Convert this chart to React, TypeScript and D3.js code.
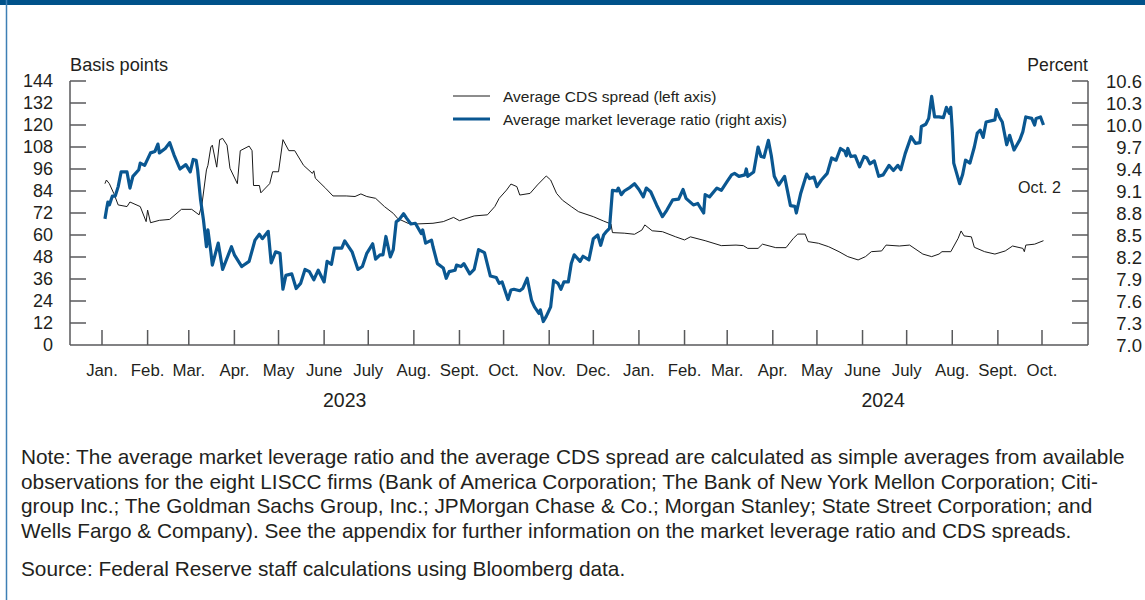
import React from "react";
import * as d3 from "d3";

const monthLabels = ["Jan.","Feb.","Mar.","Apr.","May","June","July","Aug.","Sept.","Oct.","Nov.","Dec.","Jan.","Feb.","Mar.","Apr.","May","June","July","Aug.","Sept.","Oct."];
const monthStarts = ["2023-01-01","2023-02-01","2023-03-01","2023-04-01","2023-05-01","2023-06-01","2023-07-01","2023-08-01","2023-09-01","2023-10-01","2023-11-01","2023-12-01","2024-01-01","2024-02-01","2024-03-01","2024-04-01","2024-05-01","2024-06-01","2024-07-01","2024-08-01","2024-09-01","2024-10-01"];
const yearLabels = ["2023","2024"];
const yearLabelDates = ["2023-06-15","2024-06-15"];
const leftTicks = [0,12,24,36,48,60,72,84,96,108,120,132,144];
const rightTicks = ["7.0","7.3","7.6","7.9","8.2","8.5","8.8","9.1","9.4","9.7","10.0","10.3","10.6"];

const cdsDates = ["2023-01-03","2023-01-04","2023-01-06","2023-01-09","2023-01-12","2023-01-18","2023-01-20","2023-01-27","2023-01-31","2023-02-01","2023-02-03","2023-02-09","2023-02-16","2023-02-24","2023-03-03","2023-03-08","2023-03-10","2023-03-13","2023-03-14","2023-03-16","2023-03-17","2023-03-20","2023-03-22","2023-03-24","2023-03-27","2023-03-29","2023-04-03","2023-04-05","2023-04-11","2023-04-13","2023-04-14","2023-04-18","2023-04-19","2023-04-25","2023-04-27","2023-05-01","2023-05-04","2023-05-08","2023-05-12","2023-05-18","2023-05-24","2023-05-25","2023-05-26","2023-06-02","2023-06-07","2023-06-16","2023-06-22","2023-06-26","2023-06-30","2023-07-06","2023-07-12","2023-07-18","2023-07-21","2023-07-28","2023-08-02","2023-08-14","2023-08-21","2023-08-28","2023-09-01","2023-09-11","2023-09-20","2023-09-25","2023-09-28","2023-10-03","2023-10-06","2023-10-10","2023-10-12","2023-10-19","2023-10-24","2023-10-30","2023-11-02","2023-11-06","2023-11-10","2023-11-16","2023-11-21","2023-12-01","2023-12-08","2023-12-13","2023-12-14","2023-12-22","2023-12-29","2024-01-03","2024-01-05","2024-01-10","2024-01-17","2024-01-26","2024-02-01","2024-02-05","2024-02-15","2024-02-26","2024-03-07","2024-03-12","2024-03-15","2024-03-22","2024-03-25","2024-04-03","2024-04-10","2024-04-15","2024-04-18","2024-04-23","2024-04-25","2024-05-02","2024-05-09","2024-05-16","2024-05-22","2024-05-29","2024-06-03","2024-06-07","2024-06-14","2024-06-17","2024-06-26","2024-07-03","2024-07-12","2024-07-18","2024-07-23","2024-07-25","2024-07-31","2024-08-05","2024-08-07","2024-08-09","2024-08-14","2024-08-16","2024-08-23","2024-08-30","2024-09-06","2024-09-11","2024-09-18","2024-09-19","2024-09-20","2024-09-26","2024-10-02"];
const cdsValues = [88,90,88,82.7,76.4,75.5,78,75.5,67.3,73.6,66.7,68,68.5,74,74,71,77,95.5,98,108,109,97,112,112.7,109,96.4,88,106,108.5,106,87,87,83,88,94.5,94.5,112,106,106,98,93.6,95,91,85.5,81.3,81.3,81,82.4,81,80,75.5,71.8,69,66.4,66,66.4,67.3,69.6,67.8,70.4,71,75.5,80,84.5,87.8,86.4,81.8,82.7,87.3,92.2,90,82.7,79,75.5,72.7,70,67.6,66,61.3,61,60.4,62.7,65.5,62.3,61.8,59,57.3,59,56.9,54.2,54.5,54.2,52.7,52.7,55,53.1,53.1,58.2,60.5,60.5,56.4,55.5,53.6,50.9,48.2,46.4,48.2,50.9,51.3,54.5,54,54.5,49.6,48.2,49.6,50.9,50.9,58.2,62.2,59.5,59,53.3,50.9,49.6,51.3,54,52.7,50.9,54.5,55,56.9];

const levDates = ["2023-01-03","2023-01-04","2023-01-05","2023-01-06","2023-01-08","2023-01-10","2023-01-12","2023-01-14","2023-01-18","2023-01-20","2023-01-22","2023-01-26","2023-01-27","2023-01-30","2023-02-03","2023-02-06","2023-02-08","2023-02-09","2023-02-13","2023-02-16","2023-02-19","2023-02-23","2023-02-27","2023-03-02","2023-03-04","2023-03-06","2023-03-07","2023-03-09","2023-03-11","2023-03-13","2023-03-14","2023-03-16","2023-03-17","2023-03-21","2023-03-24","2023-03-30","2023-04-01","2023-04-06","2023-04-11","2023-04-15","2023-04-18","2023-04-20","2023-04-24","2023-04-26","2023-04-29","2023-05-02","2023-05-04","2023-05-06","2023-05-10","2023-05-13","2023-05-16","2023-05-19","2023-05-22","2023-05-25","2023-05-28","2023-06-01","2023-06-03","2023-06-06","2023-06-08","2023-06-13","2023-06-15","2023-06-17","2023-06-20","2023-06-24","2023-06-27","2023-06-30","2023-07-04","2023-07-06","2023-07-09","2023-07-11","2023-07-13","2023-07-16","2023-07-18","2023-07-20","2023-07-22","2023-07-25","2023-07-27","2023-07-30","2023-08-02","2023-08-06","2023-08-07","2023-08-09","2023-08-13","2023-08-14","2023-08-17","2023-08-21","2023-08-23","2023-08-25","2023-08-29","2023-08-30","2023-09-02","2023-09-04","2023-09-08","2023-09-11","2023-09-14","2023-09-18","2023-09-22","2023-09-26","2023-09-28","2023-09-30","2023-10-04","2023-10-06","2023-10-08","2023-10-12","2023-10-14","2023-10-17","2023-10-20","2023-10-22","2023-10-25","2023-10-26","2023-10-28","2023-10-30","2023-11-02","2023-11-04","2023-11-07","2023-11-09","2023-11-11","2023-11-14","2023-11-16","2023-11-18","2023-11-22","2023-11-24","2023-11-28","2023-12-01","2023-12-04","2023-12-06","2023-12-08","2023-12-10","2023-12-12","2023-12-14","2023-12-17","2023-12-18","2023-12-20","2023-12-22","2023-12-26","2023-12-29","2024-01-01","2024-01-04","2024-01-06","2024-01-09","2024-01-13","2024-01-17","2024-01-20","2024-01-24","2024-01-28","2024-01-31","2024-02-02","2024-02-07","2024-02-10","2024-02-14","2024-02-15","2024-02-18","2024-02-23","2024-02-26","2024-03-01","2024-03-04","2024-03-06","2024-03-09","2024-03-13","2024-03-14","2024-03-15","2024-03-19","2024-03-22","2024-03-24","2024-03-26","2024-03-29","2024-03-31","2024-04-02","2024-04-05","2024-04-09","2024-04-13","2024-04-16","2024-04-17","2024-04-20","2024-04-24","2024-04-26","2024-04-29","2024-05-01","2024-05-04","2024-05-08","2024-05-11","2024-05-14","2024-05-17","2024-05-20","2024-05-21","2024-05-22","2024-05-24","2024-05-27","2024-05-30","2024-06-02","2024-06-04","2024-06-06","2024-06-09","2024-06-12","2024-06-15","2024-06-19","2024-06-22","2024-06-25","2024-06-27","2024-06-30","2024-07-04","2024-07-07","2024-07-10","2024-07-11","2024-07-14","2024-07-16","2024-07-18","2024-07-20","2024-07-23","2024-07-26","2024-07-28","2024-07-30","2024-07-31","2024-08-01","2024-08-02","2024-08-06","2024-08-08","2024-08-10","2024-08-13","2024-08-16","2024-08-18","2024-08-20","2024-08-22","2024-08-24","2024-08-30","2024-08-31","2024-09-02","2024-09-04","2024-09-07","2024-09-09","2024-09-12","2024-09-16","2024-09-18","2024-09-20","2024-09-24","2024-09-26","2024-09-27","2024-09-30","2024-10-02"];
const levValues = [8.72,8.84,8.95,8.91,9.03,9.03,9.16,9.36,9.36,9.14,9.30,9.39,9.48,9.45,9.62,9.64,9.74,9.62,9.68,9.76,9.59,9.40,9.46,9.36,9.53,9.52,9.39,8.98,8.70,8.34,8.57,8.27,8.09,8.39,8.03,8.34,8.23,8.07,8.14,8.43,8.51,8.45,8.55,8.12,8.27,8.25,7.76,7.95,7.97,7.77,7.84,8.03,8.00,7.89,8.02,7.86,8.14,8.10,8.32,8.32,8.42,8.36,8.27,8.03,8.07,8.25,8.38,8.17,8.23,8.23,8.48,8.20,8.30,8.68,8.71,8.79,8.73,8.65,8.66,8.52,8.57,8.39,8.43,8.34,8.11,8.05,7.91,8.00,8.02,8.09,8.07,8.11,7.97,8.03,8.30,8.26,7.94,7.92,7.84,7.86,7.62,7.75,7.76,7.74,7.77,7.91,7.61,7.52,7.43,7.48,7.32,7.39,7.52,7.88,7.84,7.76,7.86,7.86,8.11,8.23,8.14,8.21,8.16,8.45,8.50,8.36,8.50,8.55,8.59,9.11,9.10,9.14,9.05,9.10,9.15,9.20,9.12,9.02,9.14,9.09,8.91,8.75,8.84,8.98,8.99,9.12,9.00,8.91,8.93,8.80,9.05,9.02,9.14,9.11,9.23,9.32,9.34,9.30,9.32,9.40,9.30,9.36,9.70,9.57,9.56,9.79,9.58,9.30,9.18,9.30,8.90,8.89,8.80,9.07,9.33,9.27,9.29,9.16,9.25,9.34,9.55,9.52,9.68,9.64,9.58,9.68,9.57,9.58,9.43,9.57,9.55,9.47,9.51,9.30,9.32,9.45,9.38,9.45,9.39,9.61,9.84,9.75,9.76,9.98,10.01,10.09,10.39,10.11,10.11,10.10,10.24,10.16,10.24,9.93,9.48,9.20,9.32,9.52,9.48,9.70,9.89,9.93,9.83,10.04,10.07,10.21,10.11,10.04,9.73,9.86,9.66,9.80,9.91,10.11,10.09,10.00,10.09,10.11,10.00];

const noteLines = [
  "Note: The average market leverage ratio and the average CDS spread are calculated as simple averages from available",
  "observations for the eight LISCC firms (Bank of America Corporation; The Bank of New York Mellon Corporation; Citi-",
  "group Inc.; The Goldman Sachs Group, Inc.; JPMorgan Chase & Co.; Morgan Stanley; State Street Corporation; and",
  "Wells Fargo & Company). See the appendix for further information on the market leverage ratio and CDS spreads.",
];
const sourceLine = "Source: Federal Reserve staff calculations using Bloomberg data.";

const parse = d3.utcParse("%Y-%m-%d");
const FONT = "'Liberation Sans', Arial, sans-serif";
const TEXT = "#231f20";
const AXIS = "#58595b";
const BLUE = "#0a5791";

export default function App() {
  const W = 1145, H = 600;
  const x0 = 70, x1 = 1088, yTop = 81, yBot = 345;
  const x = d3.scaleUtc().domain([parse("2023-01-01")!, parse("2024-10-01")!]).range([102, 1042]);
  const yL = d3.scaleLinear().domain([0, 144]).range([yBot, yTop]);
  const yR = d3.scaleLinear().domain([7.0, 10.6]).range([yBot, yTop]);

  const cds = cdsDates.map((d, i) => ({ d: parse(d)!, v: cdsValues[i] }));
  const lev = levDates.map((d, i) => ({ d: parse(d)!, v: levValues[i] }));
  const cdsLine = d3.line<any>().x(p => x(p.d)).y(p => yL(p.v))(cds)!;
  const levLine = d3.line<any>().x(p => x(p.d)).y(p => yR(p.v))(lev)!;

  return (
    <svg width={W} height={H} style={{ position: "absolute", left: 0, top: 0, background: "#fff" }} fontFamily={FONT}>
      <rect x={0} y={0} width={W} height={5} fill="#00528a" />
      <line x1={6.5} y1={0} x2={6.5} y2={H} stroke="#3d7fb5" strokeWidth={1.5} />

      <text x={x0} y={71} fontSize={18.2} fill={TEXT}>Basis points</text>
      <text x={x1} y={71} fontSize={17.6} fill={TEXT} textAnchor="end">Percent</text>

      {/* axes */}
      <line x1={x0} y1={yTop} x2={x0} y2={yBot} stroke={AXIS} strokeWidth={1.5} />
      <line x1={x1} y1={yTop} x2={x1} y2={yBot} stroke={AXIS} strokeWidth={1.5} />
      <line x1={x0} y1={yBot} x2={x1} y2={yBot} stroke={AXIS} strokeWidth={1.5} />
      {leftTicks.map(t => (
        <g key={"l" + t}>
          {t > 0 && <line x1={x0} x2={x0 + 16} y1={yL(t)} y2={yL(t)} stroke={AXIS} strokeWidth={1.5} />}
          <text x={53} y={yL(t)} dy="0.36em" fontSize={18} fill={TEXT} textAnchor="end">{t}</text>
        </g>
      ))}
      {rightTicks.map(t => (
        <g key={"r" + t}>
          {+t > 7 && <line x1={x1 - 16} x2={x1} y1={yR(+t)} y2={yR(+t)} stroke={AXIS} strokeWidth={1.5} />}
          <text x={1142} y={yR(+t)} dy="0.36em" fontSize={18.5} fill={TEXT} textAnchor="end">{t}</text>
        </g>
      ))}
      {monthStarts.map((m, i) => (
        <g key={"m" + i}>
          <line x1={x(parse(m)!)} x2={x(parse(m)!)} y1={yBot} y2={yBot - 15} stroke={AXIS} strokeWidth={1.5} />
          <text x={x(parse(m)!)} y={376} fontSize={16.8} fill={TEXT} textAnchor="middle">{monthLabels[i]}</text>
        </g>
      ))}
      {yearLabels.map((yl, i) => (
        <text key={yl} x={x(parse(yearLabelDates[i])!)} y={407} fontSize={19.5} fill={TEXT} textAnchor="middle">{yl}</text>
      ))}

      {/* series */}
      <path d={cdsLine} fill="none" stroke="#1a1a1a" strokeWidth={1} strokeLinejoin="round" />
      <path d={levLine} fill="none" stroke={BLUE} strokeWidth={3.2} strokeLinejoin="round" />

      {/* legend */}
      <line x1={453} x2={490} y1={96} y2={96} stroke="#1a1a1a" strokeWidth={1} />
      <text x={503} y={96} dy="0.36em" fontSize={15.5} fill={TEXT}>Average CDS spread (left axis)</text>
      <line x1={453} x2={490} y1={119} y2={119} stroke={BLUE} strokeWidth={3.2} />
      <text x={503} y={119} dy="0.36em" fontSize={15.5} fill={TEXT}>Average market leverage ratio (right axis)</text>

      <text x={1061} y={187} dy="0.36em" fontSize={16.1} fill={TEXT} textAnchor="end">Oct. 2</text>

      {/* note */}
      {noteLines.map((l, i) => (
        <text key={i} x={21} y={464 + i * 24.5} fontSize={20.8} fill={TEXT}>{l}</text>
      ))}
      <text x={21} y={576} fontSize={20.8} fill={TEXT}>{sourceLine}</text>
    </svg>
  );
}
